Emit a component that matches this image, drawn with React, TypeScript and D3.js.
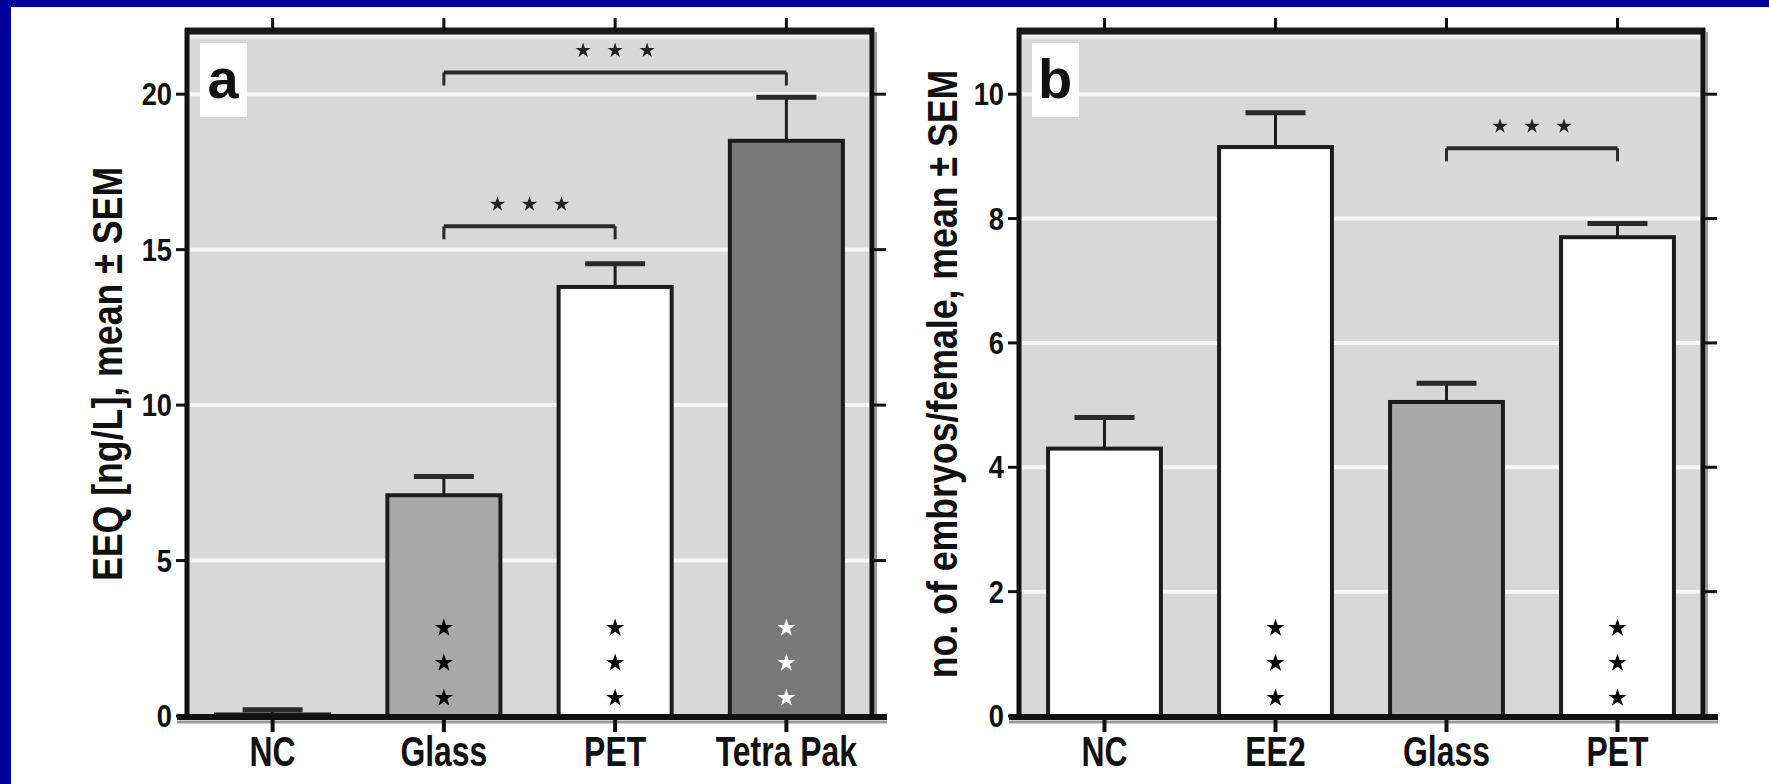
import React from "react";
import * as d3 from "d3";

// ---------- data ----------
const panelACategories = ["NC", "Glass", "PET", "Tetra Pak"];
const panelAMeans = [0.05, 7.1, 13.8, 18.5];
const panelASem = [0.15, 0.6, 0.75, 1.4];
const panelATicks = [0, 5, 10, 15, 20];
const panelABarStars = [0, 3, 3, 3];
const panelABrackets = [
  { from: "Glass", to: "PET", level: 15.75, stars: 3 },
  { from: "Glass", to: "Tetra Pak", level: 20.7, stars: 3 },
];
const panelATitle = "EEQ [ng/L], mean ± SEM";

const panelBCategories = ["NC", "EE2", "Glass", "PET"];
const panelBMeans = [4.3, 9.15, 5.05, 7.7];
const panelBSem = [0.5, 0.55, 0.3, 0.22];
const panelBTicks = [0, 2, 4, 6, 8, 10];
const panelBBarStars = [0, 3, 0, 3];
const panelBBrackets = [{ from: "Glass", to: "PET", level: 9.13, stars: 3 }];
const panelBTitle = "no. of embryos/female, mean ± SEM";

// ---------- styles ----------
const panelAFills = ["#d8d8d8", "#a8a8a8", "#ffffff", "#787878"];
const panelAStarColors = ["#000", "#000", "#000", "#ffffff"];
const panelBFills = ["#ffffff", "#ffffff", "#a8a8a8", "#ffffff"];
const panelBStarColors = ["#000", "#000", "#000", "#000"];

const FONT = "'Liberation Sans', Arial, sans-serif";
const ka = 0.8908130915292852;
const starPath = (r: number) => d3.symbol().type(d3.symbolStar).size((r * r) / ka)() as string;

type PanelProps = {
  left: number;
  right: number;
  top: number;
  bottom: number;
  yMax: number;
  categories: string[];
  means: number[];
  sem: number[];
  ticks: number[];
  barStars: number[];
  brackets: { from: string; to: string; level: number; stars: number }[];
  title: string;
  letter: string;
  fills: string[];
  starColors: string[];
  titleX: number;
};

function Panel(p: PanelProps) {
  const x = d3
    .scaleBand<string>()
    .domain(p.categories)
    .range([p.left, p.right])
    .paddingInner(0.34)
    .paddingOuter(0.17);
  const y = d3.scaleLinear().domain([0, p.yMax]).range([p.bottom, p.top]);
  const bw = x.bandwidth();
  const cx = (c: string) => (x(c) as number) + bw / 2;
  const capW = 60;
  const bigStar = starPath(9.5);
  const smallStar = starPath(8);

  return (
    <g>
      {/* plot background */}
      <rect x={p.left} y={p.top} width={p.right - p.left} height={p.bottom - p.top} fill="#d8d8d8" />
      <rect x={p.left + 3} y={p.top + 3} width={p.right - p.left - 6} height={4} fill="#ececec" />
      {/* white gridlines */}
      {p.ticks
        .filter((t) => t > 0)
        .map((t) => (
          <line key={"g" + t} x1={p.left + 3} x2={p.right - 3} y1={y(t)} y2={y(t)} stroke="#f7f7f7" strokeWidth={4} />
        ))}
      {/* panel letter box */}
      <rect x={p.left + 13} y={43} width={47} height={74} fill="#ffffff" />
      <text x={p.left + 36} y={98} fontFamily={FONT} fontWeight="bold" fontSize={56} textAnchor="middle" fill="#111">
        {p.letter}
      </text>
      {/* bars */}
      {p.categories.map((c, i) => (
        <rect
          key={"b" + c}
          x={x(c) as number}
          y={y(p.means[i])}
          width={bw}
          height={Math.max(0, p.bottom - y(p.means[i]))}
          fill={p.fills[i]}
          stroke="#1c1c1c"
          strokeWidth={4}
        />
      ))}
      {/* error bars */}
      {p.categories.map((c, i) => (
        <g key={"e" + c}>
          <line x1={cx(c)} x2={cx(c)} y1={y(p.means[i])} y2={y(p.means[i] + p.sem[i])} stroke="#1c1c1c" strokeWidth={3} />
          <line
            x1={cx(c) - capW / 2}
            x2={cx(c) + capW / 2}
            y1={y(p.means[i] + p.sem[i])}
            y2={y(p.means[i] + p.sem[i])}
            stroke="#2a2a2a"
            strokeWidth={5}
          />
        </g>
      ))}
      {/* stars in bars */}
      {p.categories.map((c, i) =>
        d3.range(p.barStars[i]).map((k) => (
          <path
            key={"s" + c + k}
            d={bigStar}
            transform={`translate(${cx(c)},${p.bottom - 18 - k * 35})`}
            fill={p.starColors[i]}
          />
        ))
      )}
      {/* significance brackets */}
      {p.brackets.map((b, i) => {
        const x1 = cx(b.from);
        const x2 = cx(b.to);
        const yy = y(b.level);
        const mid = (x1 + x2) / 2;
        return (
          <g key={"br" + i}>
            <line x1={x1} x2={x2} y1={yy} y2={yy} stroke="#2a2a2a" strokeWidth={4} />
            <line x1={x1} x2={x1} y1={yy} y2={yy + 13} stroke="#2a2a2a" strokeWidth={3} />
            <line x1={x2} x2={x2} y1={yy} y2={yy + 13} stroke="#2a2a2a" strokeWidth={3} />
            {d3.range(b.stars).map((k) => (
              <path
                key={k}
                d={smallStar}
                transform={`translate(${mid + (k - (b.stars - 1) / 2) * 32},${yy - 22})`}
                fill="#222"
              />
            ))}
          </g>
        );
      })}
      {/* frame shadows */}
      <line x1={p.left - 10} x2={p.right + 15} y1={p.bottom + 6} y2={p.bottom + 6} stroke="#9a9a9a" strokeWidth={3} />
      <line x1={p.right + 4} x2={p.right + 4} y1={p.top} y2={p.bottom} stroke="#9a9a9a" strokeWidth={2} />
      {/* frame */}
      <line x1={p.left - 2} x2={p.right + 2} y1={p.top - 1} y2={p.top - 1} stroke="#1a1a1a" strokeWidth={7} />
      <line x1={p.left} x2={p.left} y1={p.top - 4} y2={p.bottom} stroke="#111" strokeWidth={5} />
      <line x1={p.right} x2={p.right} y1={p.top - 4} y2={p.bottom} stroke="#111" strokeWidth={5} />
      <line x1={p.left - 10} x2={p.right + 15} y1={p.bottom + 1} y2={p.bottom + 1} stroke="#111" strokeWidth={6} />
      {/* y ticks left & right */}
      {p.ticks.map((t) => (
        <g key={"t" + t}>
          <line x1={p.left - 11} x2={p.left} y1={y(t)} y2={y(t)} stroke="#111" strokeWidth={3} />
          <line x1={p.right} x2={p.right + 14} y1={y(t)} y2={y(t)} stroke="#111" strokeWidth={3} />
          <text
            transform={`translate(${p.left - 15},${y(t) + 11}) scale(0.88,1)`}
            fontFamily={FONT}
            fontWeight="bold"
            fontSize={31}
            textAnchor="end"
            fill="#111"
          >
            {t}
          </text>
        </g>
      ))}
      {/* category ticks top & bottom + labels */}
      {p.categories.map((c) => (
        <g key={"c" + c}>
          <line x1={cx(c)} x2={cx(c)} y1={p.top - 14} y2={p.top} stroke="#111" strokeWidth={3} />
          <line x1={cx(c)} x2={cx(c)} y1={p.bottom} y2={p.bottom + 16} stroke="#111" strokeWidth={4} />
          <text
            transform={`translate(${cx(c)},${766}) scale(0.76,1)`}
            fontFamily={FONT}
            fontWeight="bold"
            fontSize={42}
            textAnchor="middle"
            fill="#111"
          >
            {c}
          </text>
        </g>
      ))}
      {/* y title */}
      <text
        transform={`translate(${p.titleX},${(p.top + p.bottom) / 2}) rotate(-90) scale(0.85,1)`}
        fontFamily={FONT}
        fontWeight="bold"
        fontSize={42}
        textAnchor="middle"
        fill="#111"
      >
        {p.title}
      </text>
    </g>
  );
}

export default function App() {
  const W = 1769;
  const H = 784;
  return (
    <svg width={W} height={H} style={{ position: "absolute", left: 0, top: 0 }}>
      <rect x={0} y={0} width={W} height={H} fill="#00009c" />
      <rect x={11} y={7} width={W - 11} height={H - 7} fill="#ffffff" />
      <Panel
        left={187}
        right={872}
        top={32}
        bottom={716}
        yMax={22}
        categories={panelACategories}
        means={panelAMeans}
        sem={panelASem}
        ticks={panelATicks}
        barStars={panelABarStars}
        brackets={panelABrackets}
        title={panelATitle}
        letter="a"
        fills={panelAFills}
        starColors={panelAStarColors}
        titleX={122}
      />
      <Panel
        left={1019}
        right={1703}
        top={32}
        bottom={716}
        yMax={11}
        categories={panelBCategories}
        means={panelBMeans}
        sem={panelBSem}
        ticks={panelBTicks}
        barStars={panelBBarStars}
        brackets={panelBBrackets}
        title={panelBTitle}
        letter="b"
        fills={panelBFills}
        starColors={panelBStarColors}
        titleX={957}
      />
    </svg>
  );
}
